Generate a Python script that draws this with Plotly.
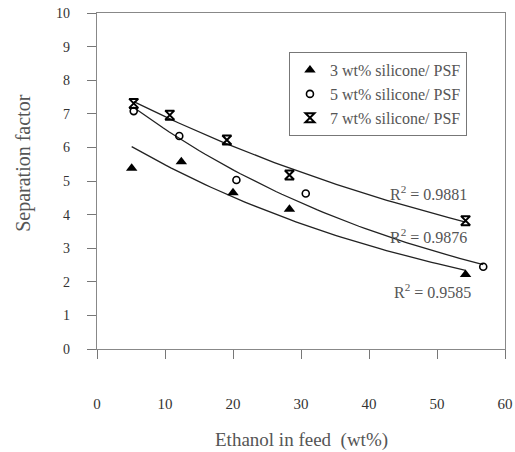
import numpy as np
import plotly.graph_objects as go

# Data
x_3 = [5.1, 12.4, 20.0, 28.3, 54.2]
y_3 = [5.38, 5.57, 4.65, 4.16, 2.22]
x_5 = [5.4, 12.1, 20.5, 30.7, 56.8]
y_5 = [7.08, 6.34, 5.03, 4.63, 2.45]
x_7 = [5.4, 10.7, 19.1, 28.3, 54.2]
y_7 = [7.31, 6.96, 6.22, 5.18, 3.82]
names = ["3 wt% silicone/ PSF", "5 wt% silicone/ PSF", "7 wt% silicone/ PSF"]
r2_labels = ["0.9585", "0.9876", "0.9881"]
x_ticks = [0, 10, 20, 30, 40, 50, 60]
y_ticks = list(range(0, 11))

FONT = "Liberation Serif"
fig = go.Figure()

def exp_fit(xs, ys):
    b, ln_a = np.polyfit(xs, np.log(ys), 1)
    xx = np.linspace(min(xs), max(xs), 60)
    return xx, np.exp(ln_a) * np.exp(b * xx)

for xs, ys in [(x_3, y_3), (x_5, y_5), (x_7, y_7)]:
    xx, yy = exp_fit(xs, ys)
    fig.add_trace(go.Scatter(x=xx, y=yy, mode="lines", line=dict(color="#222", width=1.3),
                             showlegend=False, hoverinfo="skip"))

fig.add_trace(go.Scatter(x=x_3, y=y_3, mode="markers", name=names[0],
                         marker=dict(symbol="triangle-up", size=10, color="black")))
fig.add_trace(go.Scatter(x=x_5, y=y_5, mode="markers", name=names[1],
                         marker=dict(symbol="circle-open", size=7, color="black", line=dict(width=1.6))))
fig.add_trace(go.Scatter(x=x_7, y=y_7, mode="markers", name=names[2],
                         marker=dict(symbol="hourglass-open", size=9, color="black", line=dict(width=2))))

# R^2 annotations
for (lab, xpos, ypos) in [(r2_labels[0], 49.4, 1.72),
                          (r2_labels[1], 48.7, 3.36),
                          (r2_labels[2], 48.7, 4.64)]:
    fig.add_annotation(x=xpos, y=ypos, text="R<sup>2</sup> = " + lab, showarrow=False,
                       font=dict(family=FONT, size=16, color="#555"), xanchor="center", yanchor="middle")

# axis titles
fig.add_annotation(xref="paper", yref="paper", x=-0.179, y=0.554, text="Separation factor",
                   textangle=-90, showarrow=False, xanchor="center", yanchor="middle",
                   font=dict(family=FONT, size=20, color="#555"))
fig.add_annotation(xref="paper", yref="paper", x=0.5, y=-0.272, text="Ethanol in feed  (wt%)",
                   showarrow=False, xanchor="center", yanchor="middle",
                   font=dict(family=FONT, size=19, color="#555"))

axis_common = dict(showline=True, linecolor="#888", linewidth=1.3, mirror=True,
                   showgrid=False, zeroline=False, ticks="outside", tickcolor="#777",
                   ticklen=9, tickwidth=1.3, automargin=False)

fig.update_xaxes(range=[0, 60], tickvals=x_ticks, ticklabelstandoff=32,
                 tickfont=dict(family=FONT, size=15, color="#333"), **axis_common)
fig.update_yaxes(range=[0, 10], tickvals=y_ticks, ticklabelstandoff=14,
                 tickfont=dict(family=FONT, size=14, color="#333"), **axis_common)

fig.update_layout(
    width=515, height=452,
    margin=dict(l=97, r=10, t=13, b=103),
    paper_bgcolor="white", plot_bgcolor="white",
    legend=dict(x=0.47, y=0.884, xanchor="left", yanchor="top",
                bordercolor="#777", borderwidth=1.2, bgcolor="white",
                font=dict(family=FONT, size=16, color="#555"),
                itemwidth=30, tracegroupgap=2),
)

fig.write_html("out.html")
